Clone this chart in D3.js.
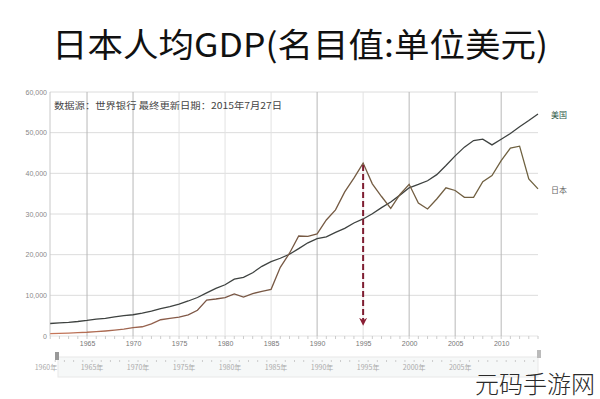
<!DOCTYPE html>
<html>
<head>
<meta charset="utf-8">
<script src="https://cdn.jsdelivr.net/npm/d3@7"></script>
<style>
  body { margin: 0; background: #fff; }
  svg { display: block; font-family: "Noto Sans CJK SC", "Noto Sans", sans-serif; }
</style>
</head>
<body>
<svg id="chart" width="600" height="399"></svg>
<script>
// years 1961..2014
const years = d3.range(1961, 2015);

// 美国 per-capita GDP (USD)
const usa = [3070, 3230, 3370, 3570, 3830, 4150, 4340, 4700, 5030, 5230,
  5610, 6090, 6730, 7240, 7820, 8610, 9470, 10590, 11690, 12600,
  13990, 14430, 15560, 17130, 18270, 19120, 20100, 21480, 22920, 23950,
  24400, 25490, 26460, 27780, 28780, 30070, 31570, 32950, 34640, 36450,
  37270, 38170, 39680, 41920, 44300, 46440, 48070, 48400, 47000, 48380,
  49800, 51450, 52980, 54600];

// 日本 per-capita GDP (USD)
const japan = [560, 630, 720, 840, 920, 1060, 1230, 1450, 1670, 2040,
  2270, 2970, 4000, 4350, 4660, 5200, 6340, 8820, 9100, 9460,
  10360, 9580, 10430, 10980, 11470, 16880, 20360, 24590, 24500, 25120,
  28540, 31010, 35450, 38820, 42520, 37420, 34300, 31400, 34800, 37300,
  32720, 31240, 33690, 36440, 35780, 34100, 34100, 37970, 39470, 43120,
  46200, 46680, 38630, 36190];

const yTicks = [0, 10000, 20000, 30000, 40000, 50000, 60000];
const xTicks = [1965, 1970, 1975, 1980, 1985, 1990, 1995, 2000, 2005, 2010];
const navTicks = [1960, 1965, 1970, 1975, 1980, 1985, 1990, 1995, 2000, 2005];
const strongYears = [1965, 1970, 1990, 2000, 2005, 2010];
const peakYear = 1995;

const svg = d3.select('#chart');

const x = d3.scaleLinear().domain([1960, 2014]).range([41, 538]);
const y = d3.scaleLinear().domain([0, 60000]).range([336, 92]);

// title
svg.append('text')
  .attr('x', 300).attr('y', 57)
  .attr('text-anchor', 'middle')
  .attr('font-size', 33)
  .attr('font-family', '"Noto Sans CJK SC", sans-serif')
  .attr('fill', '#111')
  .attr('textLength', 496)
  .attr('lengthAdjust', 'spacingAndGlyphs')
  .text('日本人均GDP(名目值:单位美元)');

// horizontal grid
svg.append('g')
  .selectAll('line')
  .data(yTicks)
  .join('line')
  .attr('x1', 50).attr('x2', 538)
  .attr('y1', d => y(d)).attr('y2', d => y(d))
  .attr('stroke', d => d === 0 ? '#e4e4e4' : '#dcdcdc')
  .attr('stroke-width', 1);

// vertical grid
svg.append('g')
  .selectAll('line')
  .data(xTicks)
  .join('line')
  .attr('x1', d => x(d)).attr('x2', d => x(d))
  .attr('y1', 92).attr('y2', 336)
  .attr('stroke', d => strongYears.includes(d) ? '#b8b8b8' : '#e2e2e2')
  .attr('stroke-width', 1);

// left edge
svg.append('line')
  .attr('x1', 50).attr('x2', 50).attr('y1', 92).attr('y2', 336)
  .attr('stroke', '#c8c8c8');

// y axis labels
const yAxis = d3.axisLeft(y).tickValues(yTicks).tickSize(0).tickPadding(3)
  .tickFormat(d3.format(','));
svg.append('g')
  .attr('transform', 'translate(50,0)')
  .call(yAxis)
  .call(g => g.select('.domain').remove())
  .call(g => g.selectAll('text')
    .attr('font-size', 7).attr('fill', '#888')
    .attr('font-family', 'Arial, "Liberation Sans", sans-serif'));

// x axis labels + small yearly ticks
const xAxis = d3.axisBottom(x).tickValues(xTicks).tickSize(0).tickPadding(5)
  .tickFormat(d3.format('d'));
svg.append('g')
  .attr('transform', 'translate(0,336)')
  .call(xAxis)
  .call(g => g.select('.domain').remove())
  .call(g => g.selectAll('text')
    .attr('font-size', 7).attr('fill', '#777')
    .attr('font-family', 'Arial, "Liberation Sans", sans-serif'));

svg.append('g')
  .selectAll('line')
  .data(d3.range(1961, 2015))
  .join('line')
  .attr('x1', d => x(d)).attr('x2', d => x(d))
  .attr('y1', 336).attr('y2', 339)
  .attr('stroke', '#ccc');

// source note
svg.append('text')
  .attr('x', 54).attr('y', 109)
  .attr('font-size', 9)
  .attr('fill', '#444')
  .attr('textLength', 228)
  .attr('lengthAdjust', 'spacingAndGlyphs')
  .text('数据源：世界银行  最终更新日期：2015年7月27日');

// gradient for Japan line
const defs = svg.append('defs');
const grad = defs.append('linearGradient')
  .attr('id', 'jpGrad')
  .attr('gradientUnits', 'userSpaceOnUse')
  .attr('x1', x(1961)).attr('x2', x(2014)).attr('y1', 0).attr('y2', 0);
grad.append('stop').attr('offset', '0%').attr('stop-color', '#c8775a');
grad.append('stop').attr('offset', '30%').attr('stop-color', '#7a5545');
grad.append('stop').attr('offset', '100%').attr('stop-color', '#6e6240');

defs.append('marker')
  .attr('id', 'arrow')
  .attr('viewBox', '0 0 10 10')
  .attr('refX', 5).attr('refY', 5)
  .attr('markerWidth', 4).attr('markerHeight', 4)
  .attr('orient', 'auto')
  .append('path')
  .attr('d', 'M0,0 L10,5 L0,10 L3,5 Z')
  .attr('fill', '#8a1f35');

const line = d3.line()
  .x((d, i) => x(years[i]))
  .y(d => y(d));

svg.append('path')
  .datum(usa)
  .attr('d', line)
  .attr('fill', 'none')
  .attr('stroke', '#3e4240')
  .attr('stroke-width', 1.3);

svg.append('path')
  .datum(japan)
  .attr('d', line)
  .attr('fill', 'none')
  .attr('stroke', 'url(#jpGrad)')
  .attr('stroke-width', 1.3);

// dashed arrow from Japan peak
const peakVal = japan[years.indexOf(peakYear)];
svg.append('line')
  .attr('x1', x(peakYear)).attr('x2', x(peakYear))
  .attr('y1', y(peakVal) + 2).attr('y2', y(3500))
  .attr('stroke', '#7e1c30')
  .attr('stroke-width', 2)
  .attr('stroke-dasharray', '6,3')
  .attr('marker-end', 'url(#arrow)');

// series labels
svg.append('text')
  .attr('x', 551).attr('y', y(usa[usa.length - 1]) + 4)
  .attr('font-size', 8).attr('fill', '#2f5a48')
  .text('美国');
svg.append('text')
  .attr('x', 551).attr('y', y(japan[japan.length - 1]) + 4)
  .attr('font-size', 8).attr('fill', '#666')
  .text('日本');

// navigator band
const nav = svg.append('g');
nav.append('rect')
  .attr('x', 58).attr('y', 357).attr('width', 480).attr('height', 20)
  .attr('fill', '#f6f8f8').attr('stroke', '#e8e8e8');
nav.append('g')
  .selectAll('line')
  .data(d3.range(1961, 2014))
  .join('line')
  .attr('x1', d => x(d) + 5).attr('x2', d => x(d) + 5)
  .attr('y1', 360).attr('y2', 362)
  .attr('stroke', '#ccc');
nav.append('g')
  .selectAll('text')
  .data(navTicks)
  .join('text')
  .attr('x', d => x(d) + 5)
  .attr('y', 370)
  .attr('text-anchor', 'middle')
  .attr('font-size', 7)
  .attr('fill', '#aaa')
  .text(d => d + '年');
nav.append('rect')
  .attr('x', 55).attr('y', 352).attr('width', 4).attr('height', 8)
  .attr('fill', '#999');
nav.append('rect')
  .attr('x', 537).attr('y', 350).attr('width', 4).attr('height', 8)
  .attr('fill', '#bbb');

// watermark
svg.append('text')
  .attr('x', 595).attr('y', 393)
  .attr('text-anchor', 'end')
  .attr('font-size', 24)
  .attr('fill', '#2a2a2a')
  .attr('font-weight', 300)
  .text('元码手游网');
</script>
</body>
</html>
